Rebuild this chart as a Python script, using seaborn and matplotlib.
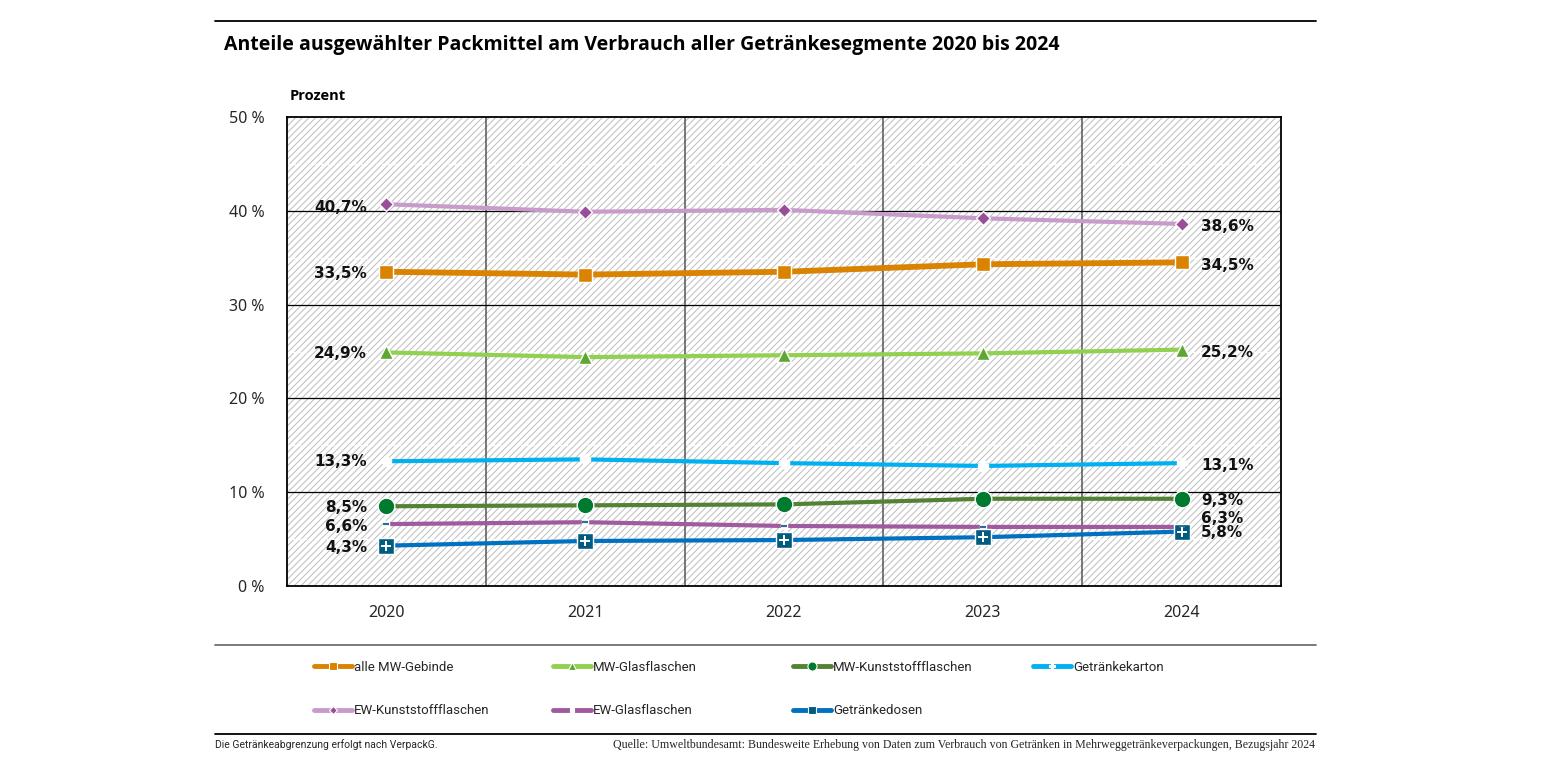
import numpy as np
import pandas as pd
import matplotlib
matplotlib.use("Agg")
import matplotlib.pyplot as plt
from matplotlib.lines import Line2D
from matplotlib.patches import Rectangle
import seaborn as sns

years = ["2020", "2021", "2022", "2023", "2024"]
series_names = ["alle MW-Gebinde", "MW-Glasflaschen", "MW-Kunststoffflaschen", "Getränkekarton",
                "EW-Kunststoffflaschen", "EW-Glasflaschen", "Getränkedosen"]
alle_mw = [33.5, 33.2, 33.5, 34.3, 34.5]
mw_glas = [24.9, 24.4, 24.6, 24.8, 25.2]
mw_kunst = [8.5, 8.6, 8.7, 9.3, 9.3]
karton = [13.3, 13.5, 13.1, 12.8, 13.1]
ew_kunst = [40.7, 39.9, 40.1, 39.2, 38.6]
ew_glas = [6.6, 6.8, 6.4, 6.3, 6.3]
dosen = [4.3, 4.8, 4.9, 5.2, 5.8]
values = [alle_mw, mw_glas, mw_kunst, karton, ew_kunst, ew_glas, dosen]
yticks = [0, 10, 20, 30, 40, 50]
ytick_labels = ["0 %", "10 %", "20 %", "30 %", "40 %", "50 %"]

# style: line colour, line width, marker, marker size, marker face, marker edge
styles = {
    "alle MW-Gebinde": ("#D98300", 4.2, "s", 10, "#D98300", "white"),
    "MW-Glasflaschen": ("#92D050", 3.0, "^", 10, "#5DA732", "white"),
    "MW-Kunststoffflaschen": ("#548235", 3.0, "o", 12, "#007A2E", "white"),
    "Getränkekarton": ("#00B0F0", 3.0, "P", 7, "white", "white"),
    "EW-Kunststoffflaschen": ("#C99BCB", 3.0, "D", 7.5, "#9A4E9A", "white"),
    "EW-Glasflaschen": ("#A05AA0", 3.0, "s", 5, "white", "white"),
    "Getränkedosen": ("#0070C0", 3.0, "s", 11, "#005B7F", "white"),
}
# label offsets in points (left, right)
offsets = {
    "alle MW-Gebinde": (-1, -2),
    "MW-Glasflaschen": (-1, -2),
    "MW-Kunststoffflaschen": (-1, -1),
    "Getränkekarton": (0, -2),
    "EW-Kunststoffflaschen": (-2, -2),
    "EW-Glasflaschen": (-2, 6),
    "Getränkedosen": (-1, -1),
}

sns.set_theme(style="white")
plt.rcParams["font.family"] = ["Noto Sans", "DejaVu Sans"]
plt.rcParams["hatch.linewidth"] = 0.7
plt.rcParams["hatch.color"] = "#BDBDBD"

fig = plt.figure(figsize=(15.45, 7.75), dpi=100)
ax = fig.add_axes([287 / 1545, 1 - 586 / 775, (1281 - 287) / 1545, (586 - 117) / 775])

x = np.arange(len(years))
ax.set_xlim(-0.5, len(years) - 0.5)
ax.set_ylim(0, 50)

# hatched background
ax.add_patch(Rectangle((0, 0), 1, 1, transform=ax.transAxes, facecolor="white",
                       edgecolor="#BDBDBD", hatch="/////", lw=0, zorder=0))

# grids
for v in [5, 15, 25, 35, 45]:
    ax.axhline(v, color="white", lw=1.0, ls=(0, (2, 2)), zorder=1)
for v in np.arange(0.5, len(years) - 0.5):
    ax.axvline(v, color="#555555", lw=1.1, zorder=1)
for v in [10, 20, 30, 40]:
    ax.axhline(v, color="black", lw=0.9, zorder=1)

df = pd.DataFrame({"pos": np.tile(x, len(series_names)),
                   "val": np.concatenate(values),
                   "serie": np.repeat(series_names, len(years))})

for name in series_names:
    c, lw, m, ms, mf, me = styles[name]
    sub = df[df["serie"] == name]
    sns.lineplot(data=sub, x="pos", y="val", color=c, lw=lw, marker=m, markersize=ms,
                 markerfacecolor=mf, markeredgecolor=me, markeredgewidth=1.0,
                 ax=ax, legend=False, zorder=3)
    if name == "Getränkedosen":
        ax.scatter(sub["pos"], sub["val"], marker="+", s=60, color="white", lw=1.4, zorder=5)
    if name == "EW-Glasflaschen":
        ax.scatter(sub["pos"], sub["val"], marker="_", s=20, color="#2F6E8E", lw=1.6, zorder=5)

    vals = sub["val"].to_numpy()
    lo, ro = offsets[name]
    ax.annotate(f"{vals[0]:.1f}%".replace(".", ","), (x[0], vals[0]), xytext=(-14, lo),
                textcoords="offset points", ha="right", va="center", fontsize=11,
                fontweight="bold", family=["DejaVu Sans"], color="#111111", zorder=6)
    ax.annotate(f"{vals[-1]:.1f}%".replace(".", ","), (x[-1], vals[-1]), xytext=(14, ro),
                textcoords="offset points", ha="left", va="center", fontsize=11,
                fontweight="bold", family=["DejaVu Sans"], color="#111111", zorder=6)

ax.set_yticks(yticks)
ax.set_yticklabels(ytick_labels, fontsize=11.5)
ax.set_xticks(x)
ax.set_xticklabels(years, fontsize=11.5)
ax.set_xticks(np.arange(-0.5, len(years)), minor=True)
ax.tick_params(axis="x", which="major", length=0, pad=14)
ax.tick_params(axis="x", which="minor", length=6, width=1.2, color="black", direction="out")
ax.tick_params(axis="y", which="major", length=0, pad=16)
ax.set_xlabel("")
ax.set_ylabel("")
for s in ax.spines.values():
    s.set_visible(True)
    s.set_color("black")
    s.set_linewidth(1.3)

# texts
bold_family = ["Open Sans", "DejaVu Sans"]
fig.text(224 / 1545, 1 - 45 / 775, "Anteile ausgewählter Packmittel am Verbrauch aller Getränkesegmente 2020 bis 2024",
         fontsize=14, fontweight="bold", family=bold_family, color="black", va="center", ha="left")
fig.text(290 / 1545, 1 - 96 / 775, "Prozent", fontsize=10.5, fontweight="bold", family=bold_family,
         color="black", va="center", ha="left")

# horizontal rules
fig.add_artist(Line2D([215 / 1545, 1316 / 1545], [1 - 21 / 775] * 2, color="black", lw=1.3))
fig.add_artist(Line2D([215 / 1545, 1316 / 1545], [1 - 645 / 775] * 2, color="#707070", lw=1.3))
fig.add_artist(Line2D([215 / 1545, 1316 / 1545], [1 - 734 / 775] * 2, color="black", lw=1.3))

# legend: one legend per column at fixed positions
handles = {}
for name in series_names:
    c, lw, m, ms, mf, me = styles[name]
    handles[name] = Line2D([], [], color=c, lw=3.5, marker=m, markersize=ms * 0.55,
                           markerfacecolor=mf, markeredgecolor=me, markeredgewidth=0.8)
columns = [[0, 4], [1, 5], [2, 6], [3]]
col_x = [314, 553, 793, 1033]
for cx, idxs in zip(col_x, columns):
    leg = fig.legend([handles[series_names[i]] for i in idxs], [series_names[i] for i in idxs],
                     ncol=1, loc="upper left", bbox_to_anchor=(cx / 1545, 1 - 661 / 775),
                     frameon=False, handlelength=2.9, handletextpad=0.15,
                     labelspacing=2.3, borderaxespad=0, borderpad=0,
                     prop={"family": ["Roboto", "DejaVu Sans"], "size": 9.5})

fig.text(215 / 1545, 1 - 745 / 775, "Die Getränkeabgrenzung erfolgt nach VerpackG.", fontsize=7.5,
         family=["Roboto", "DejaVu Sans"], va="center", ha="left")
fig.text(1315 / 1545, 1 - 745 / 775,
         "Quelle: Umweltbundesamt: Bundesweite Erhebung von Daten zum Verbrauch von Getränken in Mehrweggetränkeverpackungen, Bezugsjahr 2024",
         fontsize=8.6, family=["Liberation Serif", "DejaVu Serif"], va="center", ha="right")

fig.savefig("out.png", dpi=100)
